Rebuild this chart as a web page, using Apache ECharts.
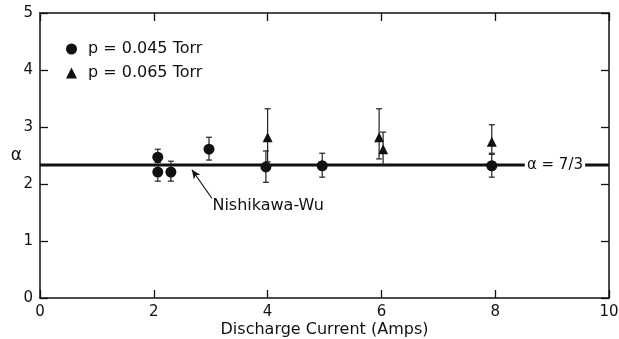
<!DOCTYPE html>
<html>
<head>
<meta charset="utf-8">
<script src="https://cdn.jsdelivr.net/npm/echarts@6/dist/echarts.min.js"></script>
<style>
  html, body { margin: 0; padding: 0; background: #fff; }
  #chart { width: 619px; height: 339px; }
</style>
</head>
<body>
<div id="chart"></div>
<script>
// p = 0.045 Torr (circles)
const circleX = [2.07, 2.07, 2.3, 2.97, 3.97, 4.96, 7.94]
const circleY = [2.47, 2.21, 2.21, 2.61, 2.30, 2.32, 2.32]
const circleLo = [2.38, 2.05, 2.05, 2.42, 2.03, 2.12, 2.12]
const circleHi = [2.61, 2.38, 2.40, 2.82, 2.58, 2.54, 2.52]

// p = 0.065 Torr (triangles)
const triX = [4.0, 5.96, 6.03, 7.94]
const triY = [2.82, 2.82, 2.61, 2.74]
const triLo = [2.39, 2.44, 2.33, 2.54]
const triHi = [3.32, 3.32, 2.91, 3.04]

// Nishikawa-Wu theory: alpha = 7/3
const theoryY = 7 / 3
const theoryGap = [8.52, 9.58]

const FONT = 'DejaVu Sans'
const chart = echarts.init(document.getElementById('chart'))

// error bars as custom series
const errorBars = (xs, lo, hi) => ({
  type: 'custom',
  silent: true,
  z: 1,
  data: xs.map((x, i) => [x, lo[i], hi[i]]),
  renderItem: (params, api) => {
    const p1 = api.coord([api.value(0), api.value(1)])
    const p2 = api.coord([api.value(0), api.value(2)])
    const w = 3
    const style = { stroke: '#222', lineWidth: 1.2 }
    return {
      type: 'group',
      children: [
        { type: 'line', shape: { x1: p1[0], y1: p1[1], x2: p2[0], y2: p2[1] }, style },
        { type: 'line', shape: { x1: p1[0] - w, y1: p1[1], x2: p1[0] + w, y2: p1[1] }, style },
        { type: 'line', shape: { x1: p2[0] - w, y1: p2[1], x2: p2[0] + w, y2: p2[1] }, style }
      ]
    }
  }
})

const axisCommon = {
  type: 'value',
  axisLine: { show: true, onZero: false, lineStyle: { color: '#111', width: 1.5 } },
  axisTick: { show: true, inside: true, length: 8, lineStyle: { color: '#111', width: 1.3 } },
  splitLine: { show: false }
}

const option = {
  animation: false,
  backgroundColor: '#fff',
  textStyle: { fontFamily: FONT },
  grid: { left: 40, right: 10, top: 13, bottom: 41, outerBoundsMode: 'none', containLabel: false },
  legend: {
    left: 61,
    top: 36,
    orient: 'vertical',
    itemGap: 8,
    itemWidth: 11,
    itemHeight: 11,
    textStyle: { fontFamily: FONT, fontSize: 16, color: '#111', padding: [0, 0, 0, 6] },
    data: [
      { name: 'p = 0.045 Torr', icon: 'circle' },
      { name: 'p = 0.065 Torr', icon: 'triangle' }
    ]
  },
  xAxis: [
    Object.assign({}, axisCommon, {
      min: 0, max: 10, interval: 2,
      name: 'Discharge Current (Amps)',
      nameLocation: 'middle',
      nameMoveOverlap: false,
      nameGap: 24,
      nameTextStyle: { fontFamily: FONT, fontSize: 16, color: '#111' },
      axisLabel: { fontFamily: FONT, fontSize: 15, color: '#111', margin: 7 }
    }),
    Object.assign({}, axisCommon, {
      min: 0, max: 10, interval: 2, position: 'top',
      axisLabel: { show: false }
    })
  ],
  yAxis: [
    Object.assign({}, axisCommon, {
      min: 0, max: 5, interval: 1,
      name: 'α',
      nameLocation: 'middle',
      nameMoveOverlap: false,
      nameRotate: 0,
      nameGap: 18,
      nameTextStyle: { fontFamily: FONT, fontSize: 17, color: '#111', padding: [0, 0, 25, 0] },
      axisLabel: { fontFamily: FONT, fontSize: 15, color: '#111', margin: 7 }
    }),
    Object.assign({}, axisCommon, {
      min: 0, max: 5, interval: 1, position: 'right',
      axisLabel: { show: false }
    })
  ],
  series: [
    {
      type: 'line',
      name: 'theory',
      symbol: 'none',
      z: 0,
      lineStyle: { color: '#111', width: 3 },
      data: [[0, theoryY], [theoryGap[0], theoryY], null, [theoryGap[1], theoryY], [10, theoryY]],
      connectNulls: false,
      markLine: {
        silent: true,
        symbol: ['none', 'arrow'],
        symbolSize: [6, 9],
        label: { show: false },
        lineStyle: { color: '#111', width: 1.2, type: 'solid' },
        data: [[{ coord: [3.02, 1.75] }, { coord: [2.67, 2.25] }]]
      }
    },
    errorBars(circleX, circleLo, circleHi),
    errorBars(triX, triLo, triHi),
    {
      type: 'scatter',
      name: 'p = 0.045 Torr',
      symbol: 'circle',
      symbolSize: 11,
      z: 3,
      itemStyle: { color: '#111', opacity: 1 },
      data: circleX.map((x, i) => [x, circleY[i]])
    },
    {
      type: 'scatter',
      name: 'p = 0.065 Torr',
      symbol: 'triangle',
      symbolSize: 10,
      z: 3,
      itemStyle: { color: '#111', opacity: 1 },
      data: triX.map((x, i) => [x, triY[i]])
    }
  ]
}

chart.setOption(option)

// text annotations placed from data coords
const lbl = chart.convertToPixel({ xAxisIndex: 0, yAxisIndex: 0 }, [(theoryGap[0] + theoryGap[1]) / 2, theoryY])
const nw = chart.convertToPixel({ xAxisIndex: 0, yAxisIndex: 0 }, [3.03, 1.62])
chart.setOption({
  graphic: [
    {
      type: 'text',
      x: lbl[0], y: lbl[1],
      style: { text: 'α = 7/3', fontFamily: FONT, fontSize: 15, fill: '#111', align: 'center', verticalAlign: 'middle' }
    },
    {
      type: 'text',
      x: nw[0], y: nw[1],
      style: { text: 'Nishikawa-Wu', fontFamily: FONT, fontSize: 16, fill: '#111', align: 'left', verticalAlign: 'middle' }
    }
  ]
})
</script>
</body>
</html>
